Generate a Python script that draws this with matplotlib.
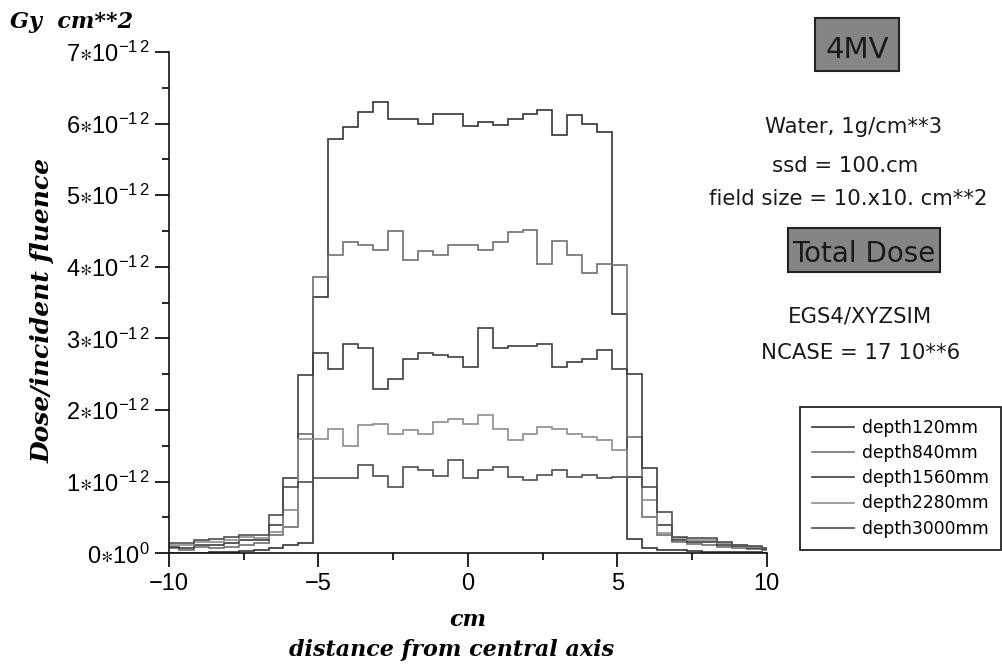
import matplotlib
matplotlib.use('Agg')
import matplotlib.pyplot as plt
import numpy as np
from matplotlib.patches import Rectangle
from matplotlib.ticker import MultipleLocator

plt.rcParams['font.family'] = ['Liberation Sans', 'DejaVu Sans']
plt.rcParams['mathtext.fontset'] = 'custom'
plt.rcParams['mathtext.rm'] = 'Liberation Sans'
plt.rcParams['mathtext.default'] = 'regular'

# bin boundaries (cm from central axis), 41 voxels of 0.5 cm
bin_edges = np.concatenate(([-10.0], np.arange(-9.67, 9.9, 0.5), [10.0]))

# dose / incident fluence in units of 1e-12 Gy cm**2, one value per voxel (x = -10 ... 10)
depth120 = [0.01, 0.01, 0.01, 0.02, 0.02, 0.03, 0.05, 0.07, 0.11, 0.15,
            3.58, 5.78, 5.95, 6.16, 6.30, 6.06, 6.07, 5.99, 6.13, 6.13,
            5.96, 6.02, 5.98, 6.07, 6.14, 6.19, 5.84, 6.12, 6.00, 5.88,
            3.34, 0.20, 0.08, 0.05, 0.04, 0.03, 0.025, 0.02, 0.02, 0.015, 0.01]
depth840 = [0.07, 0.04, 0.09, 0.07, 0.09, 0.12, 0.14, 0.25, 0.37, 1.67,
            3.86, 4.16, 4.35, 4.30, 4.24, 4.50, 4.10, 4.22, 4.17, 4.30,
            4.31, 4.24, 4.35, 4.48, 4.51, 4.04, 4.36, 4.16, 3.91, 4.04,
            4.02, 1.63, 0.51, 0.26, 0.16, 0.13, 0.12, 0.09, 0.08, 0.06, 0.05]
depth1560 = [0.09, 0.07, 0.12, 0.12, 0.14, 0.19, 0.19, 0.39, 1.05, 2.49,
             2.79, 2.57, 2.92, 2.86, 2.30, 2.44, 2.72, 2.79, 2.77, 2.74,
             2.60, 3.14, 2.87, 2.90, 2.89, 2.92, 2.60, 2.67, 2.72, 2.84,
             2.58, 2.51, 1.19, 0.39, 0.19, 0.16, 0.16, 0.12, 0.10, 0.08, 0.06]
depth2280 = [0.12, 0.12, 0.16, 0.16, 0.19, 0.23, 0.21, 0.30, 0.60, 1.60,
             1.60, 1.74, 1.50, 1.79, 1.80, 1.67, 1.72, 1.67, 1.84, 1.87,
             1.81, 1.93, 1.74, 1.58, 1.67, 1.77, 1.73, 1.67, 1.63, 1.58,
             1.44, 1.07, 0.74, 0.28, 0.21, 0.19, 0.19, 0.14, 0.11, 0.09, 0.07]
depth3000 = [0.14, 0.15, 0.19, 0.20, 0.23, 0.26, 0.26, 0.53, 0.93, 1.00,
             1.05, 1.05, 1.05, 1.23, 1.08, 0.93, 1.21, 1.16, 1.08, 1.30,
             1.05, 1.16, 1.21, 1.07, 1.02, 1.09, 1.16, 1.07, 1.09, 1.05,
             1.07, 1.07, 0.93, 0.58, 0.23, 0.21, 0.21, 0.16, 0.12, 0.10, 0.08]

series_labels = ['depth120mm', 'depth840mm', 'depth1560mm', 'depth2280mm', 'depth3000mm']
series_values = [depth120, depth840, depth1560, depth2280, depth3000]
series_colors = ['#353535', '#707070', '#3e3e3e', '#8e8e8e', '#4e4e4e']

y_ticks = [0, 1, 2, 3, 4, 5, 6, 7]
y_ticklabels = [r'$0{\ast}10^{0}$'] + [r'$%d{\ast}10^{-1\,2}$' % v for v in y_ticks[1:]]
x_ticks = [-10, -5, 0, 5, 10]

W, H = 1003, 668
fig = plt.figure(figsize=(W / 100, H / 100), dpi=100)


def fx(px):
    return px / W


def fy(py):
    return 1 - py / H


ax = fig.add_axes([fx(169), fy(553.3), fx(766.7 - 169), (553.3 - 52) / H])

for vals, lab, col in zip(series_values, series_labels, series_colors):
    ax.stairs(vals, bin_edges, baseline=None, color=col, linewidth=1.2, label=lab)

ax.set_xlim(-10, 10)
ax.set_ylim(0, 7)
ax.spines['top'].set_visible(False)
ax.spines['right'].set_visible(False)
for s in ('left', 'bottom'):
    ax.spines[s].set_linewidth(1.2)
    ax.spines[s].set_color('#111111')

ax.set_xticks(x_ticks)
ax.set_xticklabels(['\u221210', '\u22125', '0', '5', '10'])
ax.xaxis.set_minor_locator(MultipleLocator(2.5))
ax.set_yticks(y_ticks)
ax.set_yticklabels(y_ticklabels)
ax.yaxis.set_minor_locator(MultipleLocator(0.5))
ax.tick_params(which='major', direction='out', length=10, width=1.2, labelsize=17, pad=4)
ax.tick_params(which='minor', direction='out', length=5, width=1.2)

leg = ax.legend(loc='upper right', bbox_to_anchor=(fx(1001), fy(407)),
                bbox_transform=fig.transFigure, prop={'family': 'DejaVu Sans', 'size': 12.3},
                fancybox=False, framealpha=1, edgecolor='#222222', borderpad=0.7,
                handlelength=2.5, handletextpad=0.45, labelspacing=0.42, borderaxespad=0)
leg.get_frame().set_linewidth(1.3)

# axis titles
lab_font = dict(family='DejaVu Serif', style='italic', weight='bold', size=16)
fig.text(fx(10), fy(22), 'Gy  cm**2', ha='left', va='center', **lab_font)
fig.text(fx(43), fy(311), 'Dose/incident fluence', rotation=90, ha='center', va='center',
         family='DejaVu Serif', style='italic', weight='bold', size=18)
fig.text(fx(468), fy(620), 'cm', ha='center', va='center', **lab_font)
fig.text(fx(452), fy(650), 'distance from central axis', ha='center', va='center', **lab_font)

# run description on the right
info_font = dict(family='DejaVu Sans', size=15.3, color='#1a1a1a')
fig.patches.append(Rectangle((fx(815), fy(70.7)), fx(84.3), 52.4 / H, transform=fig.transFigure,
                             facecolor='#858585', edgecolor='#222222', linewidth=1.5))
fig.text(fx(857), fy(58), '4MV', ha='center', va='baseline', family='DejaVu Sans', size=21, color='#1a1a1a')
fig.text(fx(854), fy(133), 'Water, 1g/cm**3', ha='center', va='baseline', **info_font)
fig.text(fx(845), fy(172), 'ssd = 100.cm', ha='center', va='baseline', **info_font)
fig.text(fx(848), fy(205), 'field size = 10.x10. cm**2', ha='center', va='baseline', **info_font)
fig.patches.append(Rectangle((fx(788.3), fy(271.7)), fx(151.7), 43.4 / H, transform=fig.transFigure,
                             facecolor='#858585', edgecolor='#222222', linewidth=1.5))
fig.text(fx(864), fy(262), 'Total Dose', ha='center', va='baseline', family='DejaVu Sans', size=20, color='#1a1a1a')
fig.text(fx(860), fy(323), 'EGS4/XYZSIM', ha='center', va='baseline', **info_font)
fig.text(fx(861), fy(359), 'NCASE = 17 10**6', ha='center', va='baseline', **info_font)

fig.savefig('out.png', dpi=100)
